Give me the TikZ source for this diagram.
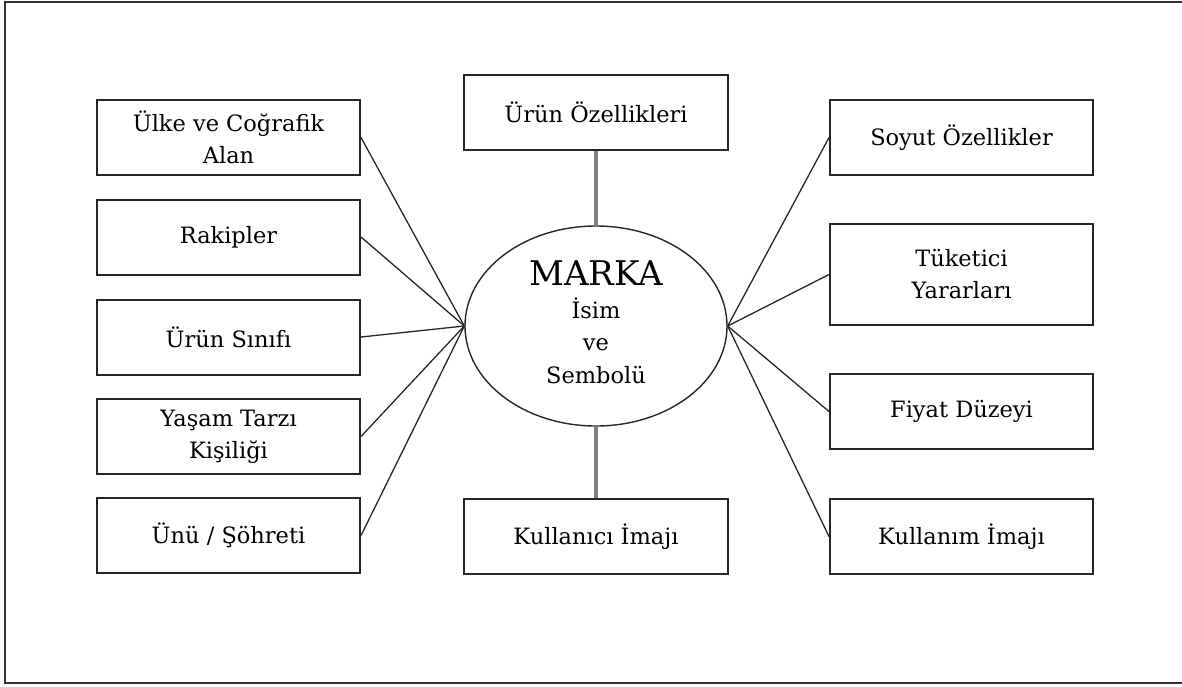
\documentclass[tikz,border=0pt]{standalone}
\usepackage{fontspec}
\setmainfont{DejaVu Serif}
\usetikzlibrary{shapes.geometric}
\begin{document}
\begin{tikzpicture}[x=1pt,y=-1pt,
  box/.style={draw=black!85, line width=2pt, minimum width=263pt,
    minimum height=75pt, inner sep=0pt, align=center,
    font=\fontsize{22.5}{32}\selectfont},
  tallbox/.style={box, minimum height=101pt},
  core/.style={draw=black!85, line width=1.4pt, ellipse,
    minimum width=262pt, minimum height=200pt, inner sep=0pt},
  coretext/.style={anchor=base, inner sep=0pt, font=\fontsize{22.5}{25}\selectfont},
  link/.style={draw=black!85, line width=1.3pt},
  stem/.style={draw=black!50, line width=3.2pt}]
\useasboundingbox (0,0) rectangle (1182,686);
\clip (0,0) rectangle (1182,686);
% outer frame (right side runs off the page)
\draw[black!80, line width=1.4pt] (1195,2) -- (5,2) -- (5,683) -- (1195,683);

% central brand ellipse
\node[core] (brand) at (596,326) {};
\node[coretext, font=\fontsize{34}{40}\selectfont] (t1) at (596,285) {MARKA};
\node[coretext] (t2) at (596,318) {İsim};
\node[coretext] (t3) at (596,350) {ve};
\node[coretext] (t4) at (596,383) {Sembolü};

% top and bottom boxes
\node[box, minimum width=264pt] (urun) at (596,112.5) {Ürün Özellikleri};
\node[box, minimum width=264pt] (kullanici) at (596,536.5) {Kullanıcı İmajı};

% left column
\node[box] (ulke) at (228.5,137.5) {Ülke ve Coğrafik\\Alan};
\node[box] (rakip) at (228.5,237) {Rakipler};
\node[box] (sinif) at (228.5,337) {Ürün Sınıfı};
\node[box] (yasam) at (228.5,436.5) {Yaşam Tarzı\\Kişiliği};
\node[box] (un) at (228.5,535.5) {Ünü / Şöhreti};

% right column
\node[box] (soyut) at (961.5,137.5) {Soyut Özellikler};
\node[tallbox] (tuketici) at (961.5,274.5) {Tüketici\\Yararları};
\node[box] (fiyat) at (961.5,411.5) {Fiyat Düzeyi};
\node[box] (kullanim) at (961.5,536.5) {Kullanım İmajı};

% connectors
\draw[stem] (urun.south) -- (brand.north);
\draw[stem] (kullanici.north) -- (brand.south);
\foreach \n in {ulke,rakip,sinif,yasam,un}
  \draw[link] (\n.east) -- (brand.west);
\foreach \n in {soyut,tuketici,fiyat,kullanim}
  \draw[link] (\n.west) -- (brand.east);
\end{tikzpicture}
\end{document}
